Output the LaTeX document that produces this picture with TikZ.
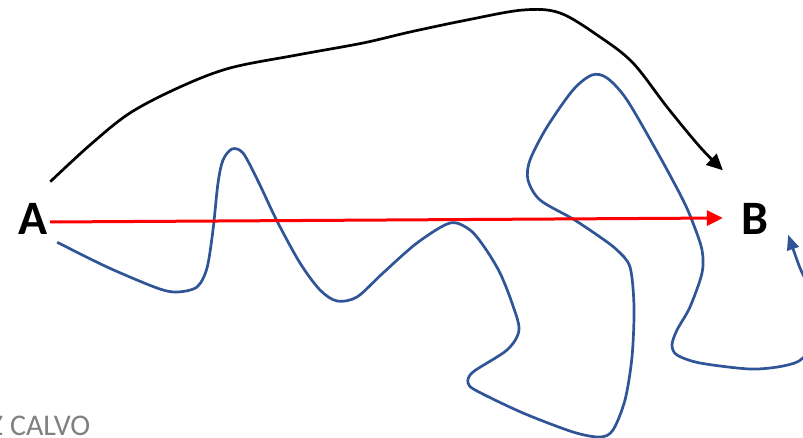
\documentclass[tikz,border=0pt]{standalone}
\usepackage{fontspec}
\setmainfont{Carlito}
\usetikzlibrary{arrows.meta}
\definecolor{wblue}{RGB}{47,85,151}
\definecolor{wgray}{RGB}{128,128,128}
\definecolor{wred}{RGB}{255,0,0}
\begin{document}
\begin{tikzpicture}[x=1pt,y=-1pt,
  lbl/.style={font=\fontsize{48}{48}\selectfont\bfseries, inner sep=0pt},
  redline/.style={draw=wred, line width=3pt, -{Triangle[length=16pt,width=15pt]}},
  blackline/.style={draw=black, line width=2.7pt, -{Triangle[length=16pt,width=15pt]}},
  blueline/.style={draw=wblue, line width=2.7pt, -{Triangle[length=15pt,width=12pt]}},
  credit/.style={text=wgray, font=\fontsize{30}{30}\selectfont, inner sep=0pt, anchor=base west}]
\clip (0,0) rectangle (803,438);
\node[lbl] (A) at (33.5,218.5) {A};
\node[lbl] (B) at (754.5,219) {B};
\node[credit] (cred) at (-11,435) {Z CALVO};
% start/end coordinates tied to nodes
\coordinate (bk0) at ([shift={(2,-21)}]A.north east);
\coordinate (bk1) at ([shift={(-18,-33)}]B.north west);
\coordinate (bl0) at ([shift={(9,8)}]A.south east);
\coordinate (bl1) at ([shift={(20,0)}]B.south east);
% black curve
\draw[blackline] plot[smooth, tension=0.55] coordinates {
  (bk0) (90,145) (130,113) (180,87) (230,68) (297,55) (363,43) (410,32)
  (467,20) (523,10) (560,13) (600,37) (633,63) (667,107) (700,147) (bk1)};
% blue wandering curve
\draw[blueline] plot[smooth, tension=0.5] coordinates {
  (bl0) (107,267) (157,288) (177,292) (197,287) (207,268) (213,230) (218,183)
  (223,160) (232,149) (243,153) (258,181) (277,221) (300,263) (320,290)
  (337,301) (357,297) (383,273) (417,243) (450,223) (470,230) (485,248)
  (500,273) (512,303) (519,330) (507,350) (473,372) (468,383) (477,391)
  (523,413) (573,432) (600,437) (613,430) (625,400) (632,357) (634,307)
  (630,267) (617,250) (600,237) (573,219) (540,200) (528,180) (530,160)
  (547,127) (573,90) (592,75) (607,78) (627,100) (660,157) (683,200)
  (693,223) (702,250) (702,273) (690,307) (677,330) (672,345) (677,355)
  (700,363) (750,369) (783,366) (803,358) (818,330) (812,295) (800,268)
  (bl1)};
% red straight arrow
\draw[redline] ([shift={(2,3.5)}]A.east) -- ([shift={(-18,-1)}]B.west);
\end{tikzpicture}
\end{document}
